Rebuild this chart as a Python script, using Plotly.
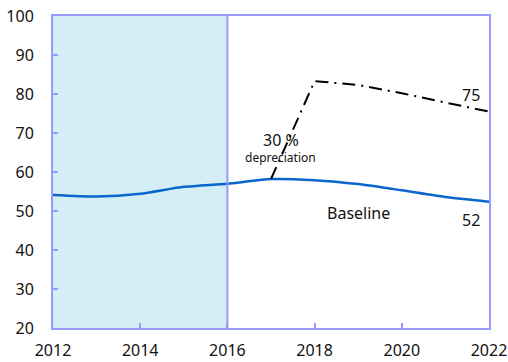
import plotly.graph_objects as go

years = [2012, 2013, 2014, 2015, 2016, 2017, 2018, 2019, 2020, 2021, 2022]
baseline = [54.1, 53.7, 54.4, 56.2, 57.0, 58.2, 57.9, 56.9, 55.3, 53.6, 52.4]
dep_years = [2017, 2018, 2019, 2020, 2021, 2022]
depreciation = [58.2, 83.3, 82.3, 80.2, 77.8, 75.5]
xticks = [2012, 2014, 2016, 2018, 2020, 2022]
yticks = [20, 30, 40, 50, 60, 70, 80, 90, 100]
hist_start, hist_end = 2012, 2016

axis_col = "#9999ff"
font = "Noto Sans, Open Sans, sans-serif"

fig = go.Figure()
fig.add_shape(type="rect", xref="x", yref="paper", x0=hist_start, x1=hist_end, y0=0, y1=1,
              fillcolor="#d5edf5", line_width=0, layer="below")
fig.add_shape(type="line", xref="x", yref="paper", x0=hist_end, x1=hist_end, y0=0, y1=1,
              line=dict(color=axis_col, width=2), layer="above")

fig.add_trace(go.Scatter(x=years, y=baseline, mode="lines",
                         line=dict(color="#0a66cc", width=2.5, shape="spline", smoothing=0.6),
                         showlegend=False, hoverinfo="skip"))
fig.add_trace(go.Scatter(x=dep_years, y=depreciation, mode="lines",
                         line=dict(color="black", width=2, dash="13px,6px,2px,6px"),
                         showlegend=False, hoverinfo="skip"))

anns = [
    dict(x=2017.22, y=68.2, text="30 %", size=16),
    dict(x=2017.22, y=63.6, text="depreciation", size=12),
    dict(x=2021.58, y=79.7, text="75", size=16),
    dict(x=2021.58, y=47.7, text="52", size=16),
    dict(x=2019.0, y=49.5, text="Baseline", size=16),
]
for a in anns:
    fig.add_annotation(x=a["x"], y=a["y"], text=a["text"], showarrow=False,
                       font=dict(size=a["size"], color="#111", family=font))

fig.update_xaxes(range=[2012, 2022], tickvals=xticks, ticks="inside", ticklen=5,
                 tickcolor=axis_col, tickwidth=2, showline=True, linecolor=axis_col,
                 linewidth=2, mirror=True, showgrid=False, zeroline=False,
                 automargin=False, ticklabelstandoff=7,
                 tickfont=dict(size=16, color="#111", family=font))
fig.update_yaxes(range=[20, 100], tickvals=yticks, ticks="inside", ticklen=5,
                 tickcolor=axis_col, tickwidth=2, showline=True, linecolor=axis_col,
                 linewidth=2, mirror=True, showgrid=False, zeroline=False,
                 automargin=False, ticklabelstandoff=14,
                 tickfont=dict(size=16, color="#111", family=font))

fig.update_layout(width=508, height=362, margin=dict(l=53, r=19, t=16, b=34),
                  plot_bgcolor="white", paper_bgcolor="white")

fig.write_html("out.html", config={"displayModeBar": False},
               post_script="document.body.style.margin='0';document.body.style.overflow='hidden';")
